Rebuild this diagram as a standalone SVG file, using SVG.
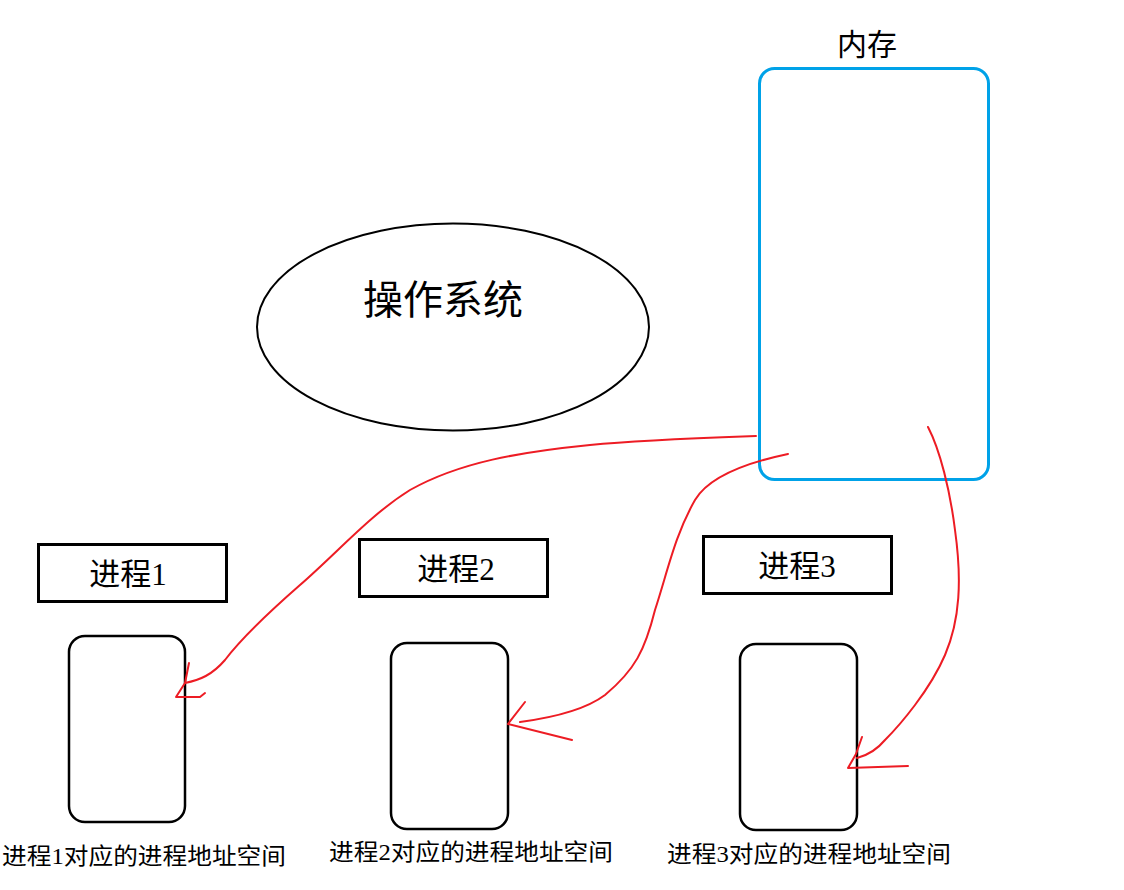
<svg xmlns="http://www.w3.org/2000/svg" width="1124" height="890" viewBox="0 0 1124 890">
<style>
.t{font-family:"Liberation Serif","Noto Sans CJK SC",serif;fill:#000}
.box{fill:#fff;stroke:#000;stroke-width:3}
.as{fill:#fff;stroke:#000;stroke-width:2.5}
.red{fill:none;stroke:#ED1C24;stroke-width:2;stroke-linejoin:round;stroke-linecap:round}
</style>
<rect width="1124" height="890" fill="#fff"/>
<g id="memory">
<rect x="759.5" y="68.5" width="229" height="411" rx="15" fill="none" stroke="#00A2E8" stroke-width="3"/>
<text class="t" x="867" y="55" font-size="30" text-anchor="middle">内存</text>
</g>
<g id="os">
<ellipse cx="453" cy="327" rx="196" ry="103.5" fill="none" stroke="#000" stroke-width="2"/>
<text class="t" x="443" y="314" font-size="40" text-anchor="middle">操作系统</text>
</g>
<g id="p1">
<rect class="box" x="38.5" y="544.5" width="188" height="57"/>
<text class="t" x="128" y="585" font-size="31" text-anchor="middle">进程1</text>
</g>
<g id="p2">
<rect class="box" x="359.5" y="539.5" width="188" height="57"/>
<text class="t" x="456" y="580" font-size="31" text-anchor="middle">进程2</text>
</g>
<g id="p3">
<rect class="box" x="703.5" y="536.5" width="188" height="57"/>
<text class="t" x="797" y="577" font-size="31" text-anchor="middle">进程3</text>
</g>
<g id="as1">
<rect class="as" x="69" y="636" width="116" height="186" rx="16"/>
<text class="t" x="2" y="864" font-size="23" textLength="284" lengthAdjust="spacingAndGlyphs">进程1对应的进程地址空间</text>
</g>
<g id="as2">
<rect class="as" x="391" y="643" width="117" height="186" rx="16"/>
<text class="t" x="329" y="860" font-size="23" textLength="284" lengthAdjust="spacingAndGlyphs">进程2对应的进程地址空间</text>
</g>
<g id="as3">
<rect class="as" x="740" y="644" width="117" height="186" rx="16"/>
<text class="t" x="667" y="862" font-size="23" textLength="284" lengthAdjust="spacingAndGlyphs">进程3对应的进程地址空间</text>
</g>
<g id="connectors">
<path class="red" d="M756,436 C700,438 640,440 590,445 C520,452 460,462 410,490 C370,515 340,550 300,585 C260,620 240,640 225,660 C212,675 200,680 185,683"/>
<path class="red" d="M189,663 L185,683 L176,697 L200,697 L205,693"/>
<path class="red" d="M788,454 C750,462 710,475 695,500 C675,535 668,570 655,610 C645,650 635,670 605,695 C585,710 550,718 520,722"/>
<path class="red" d="M525,702 L508,724 L572,740"/>
<path class="red" d="M928,427 C940,450 950,490 955,530 C962,580 960,620 945,655 C930,690 900,725 885,740 C875,752 865,756 857,758"/>
<path class="red" d="M862,737 L856,754 L848,768 L908,766"/>
</g>
</svg>
